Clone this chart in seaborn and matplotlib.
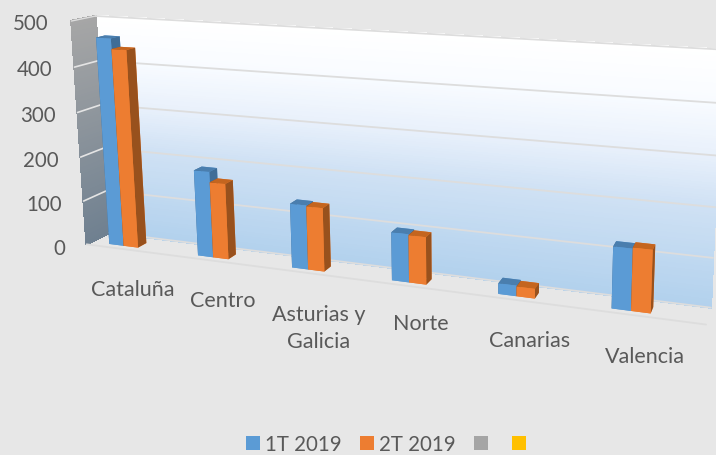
import numpy as np
import matplotlib
matplotlib.use("Agg")
import matplotlib.pyplot as plt
from matplotlib.patches import Patch
from matplotlib.colors import LinearSegmentedColormap
from mpl_toolkits.mplot3d import proj3d
import seaborn as sns

categories = ["Cataluña", "Centro", "Asturias y\nGalicia", "Norte", "Canarias", "Valencia"]
serie_1t = [464, 190, 139, 102, 22, 124]
serie_2t = [441, 167, 137, 100, 20, 126]
legend_labels = ["1T 2019", "2T 2019", "", ""]
legend_colors = ["#5b9bd5", "#ed7d31", "#a5a5a5", "#ffc000"]
y_ticks = [0, 100, 200, 300, 400, 500]

BG = "#e7e7e7"
GRID = "#dddddd"
TXT = "#595959"
FRONT = {"a": "#5b9bd5", "b": "#ed7d31"}
SIDE = {"a": "#3f6d97", "b": "#98511d"}
TOP = {"a": "#4a7eae", "b": "#c4651f"}

sns.set_theme(style="white")
plt.rcParams["font.family"] = ["Lato", "DejaVu Sans"]
FS_CAT = 15.5
FS_NUM = 14.8

W, H = 716, 456
fig = plt.figure(figsize=(W / 100, H / 100), dpi=100, facecolor=BG)
ax = fig.add_axes([0, (H - W) / 2 / H, 1, W / H], projection="3d", computed_zorder=False)
ax.set_axis_off()
ax.patch.set_alpha(0)
ax.set_proj_type("ortho")

# camera calibration: box corners (cat, depth, value) -> image pixels
cal_world = np.array([
    (0, 0, 0), (0, 0, 500), (0, 1, 0), (0, 1, 500),
    (6, 1, 0), (6, 0, 0), (6, 1, 500), (6, 1, 400), (6, 1, 300),
], float)
cal_px = np.array([
    (87, 245), (71, 22), (109, 234), (96, 17),
    (711, 308), (706, 326), (722, 50.6), (719.7, 103.5), (717.4, 157.3),
], float)
rows = []
for (x, y, z), (u, v) in zip(cal_world, cal_px):
    v = H - v
    p = [x, y, z / 500, 1]
    rows.append(p + [0, 0, 0, 0] + [-u * c for c in p])
    rows.append([0, 0, 0, 0] + p + [-v * c for c in p])
P = np.linalg.svd(np.array(rows))[2][-1].reshape(3, 4)
P[:, 2] /= 500
if P[2] @ np.array([3, .5, 250, 1]) < 0:
    P = -P
P = P / (P[2] @ np.array([3, .5, 250, 1]))
ax.apply_aspect()
A = ax.transData.inverted().get_matrix()
M = np.vstack([A[0, 0] * P[0] + A[0, 2] * P[2],
               A[1, 1] * P[1] + A[1, 2] * P[2],
               P[2] - np.array([0, 0, 0, .5]),
               P[2]])
ax.get_proj = lambda: M
ax.M = M


def label(x, y, z, s, **kw):
    px, py, _ = proj3d.proj_transform(x, y, z, M)
    ax.text2D(px, py, s, transform=ax.transData, color=TXT, zorder=50, **kw)


# walls with gradients
zs = np.linspace(0, 500, 101)
blue_cmap = LinearSegmentedColormap.from_list(
    "w", [(0, "#b2d1ed"), (.4, "#cfe1f4"), (.6, "#e8f0fb"), (.8, "#f8fbff"), (1, "#ffffff")])
gray_cmap = LinearSegmentedColormap.from_list("g", ["#6f8090", "#a6a6a6"])
X, Z = np.meshgrid([0, 6], zs)
ax.plot_surface(X, np.ones_like(X), Z, facecolors=blue_cmap(Z / 500), shade=False,
                rstride=1, cstride=1, antialiased=False, zorder=1)
Y, Z = np.meshgrid([0, 1], zs)
ax.plot_surface(np.zeros_like(Y), Y, Z, facecolors=gray_cmap(Z / 500), shade=False,
                rstride=1, cstride=1, antialiased=False, zorder=1)

# gridlines
for t in y_ticks:
    ax.plot([0, 6], [1, 1], [t, t], color=GRID, lw=1.3, zorder=2)
    if 0 < t < 500:
        ax.plot([0, 0], [0, 1], [t, t], color="#e4e4e4", lw=1.2, zorder=2)
ax.plot([0, 0], [0, 1], [500, 500], color=GRID, lw=1.0, zorder=2)
ax.plot([0, 6], [0, 0], [0, 0], color=GRID, lw=1.3, zorder=2)

# bars
w = 0.165
y0, dy = 0.22, 0.38
z = 3
for i, (a, b) in enumerate(zip(serie_1t, serie_2t)):
    for k, v, off in (("a", a, 2 * w), ("b", b, w)):
        faces = [FRONT[k], TOP[k], FRONT[k], FRONT[k], SIDE[k], SIDE[k]]
        ax.bar3d(i + .535 - off, y0, 0, w, dy, v, color=faces, shade=False, zorder=z,
                 edgecolor="none", linewidth=0)
        z += 1

# labels
label_depths = [-66, -64, -64, -55, -59, -59]
for t in y_ticks:
    label(-0.26, 0, t - (15 - 0.016 * t), str(t), ha="right", va="center", fontsize=FS_NUM)
for i, c in enumerate(categories):
    label(i + .51, 0, label_depths[i], c, ha="center", va="top", fontsize=FS_CAT, linespacing=1.45)

handles = [Patch(facecolor=c, edgecolor="none") for c in legend_colors]
fig.legend(handles, legend_labels, ncol=4, loc="center", bbox_to_anchor=(388.5 / W, 1 - 445 / H),
           frameon=False, fontsize=FS_NUM, handlelength=.68, handleheight=.68,
           handletextpad=.25, columnspacing=.9, labelcolor=TXT, borderpad=0, borderaxespad=0)

ax.set_xlim(0, 6)
ax.set_ylim(0, 1)
ax.set_zlim(0, 500)
fig.savefig("out.png", dpi=100, facecolor=BG)
